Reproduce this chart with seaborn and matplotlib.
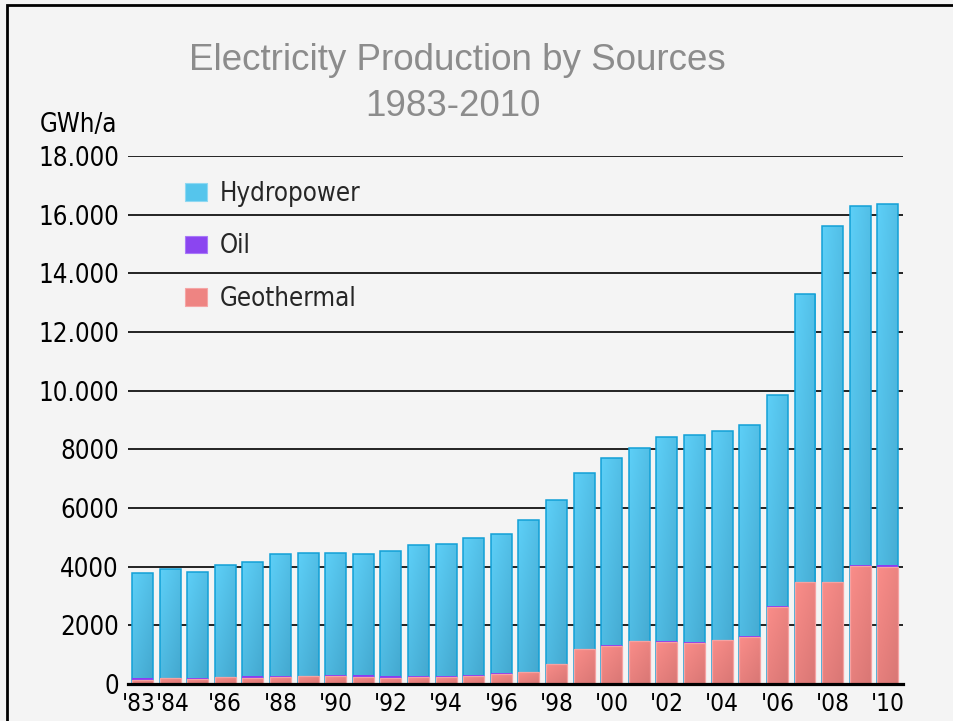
import numpy as np
import pandas as pd
import seaborn as sns
import matplotlib
matplotlib.use("Agg")
import matplotlib.pyplot as plt
from matplotlib.patches import Patch, Rectangle
from matplotlib.colors import LinearSegmentedColormap
from matplotlib.transforms import ScaledTranslation

# Annual electricity production (GWh/a) by source
years = list(range(1983, 2011))
hydropower = [3588, 3725, 3633, 3812, 3905, 4145, 4197, 4136, 4121, 4290,
              4450, 4495, 4658, 4728, 5177, 5578, 6007, 6357, 6571, 6945,
              7065, 7142, 7180, 7205, 9823, 12137, 12243, 12300]
oil = [45, 0, 45, 0, 45, 55, 0, 55, 55, 45,
       55, 55, 45, 55, 0, 0, 0, 45, 0, 45,
       50, 0, 50, 50, 0, 0, 45, 50]
geothermal = [147, 190, 157, 238, 215, 225, 283, 259, 249, 215,
              225, 225, 272, 327, 408, 692, 1178, 1293, 1474, 1420,
              1385, 1498, 1590, 2610, 3472, 3483, 4017, 4005]

tick_years = [1983, 1984, 1986, 1988, 1990, 1992, 1994, 1996, 1998,
              2000, 2002, 2004, 2006, 2008, 2010]
tick_labels = ["'83", "'84", "'86", "'88", "'90", "'92", "'94", "'96", "'98",
               "'00", "'02", "'04", "'06", "'08", "'10"]
y_ticks = [0, 2000, 4000, 6000, 8000, 10000, 12000, 14000, 16000, 18000]
y_tick_labels = ["0", "2000", "4000", "6000", "8000", "10.000", "12.000",
                 "14.000", "16.000", "18.000"]

df = pd.DataFrame({"year": [str(y) for y in years],
                   "Hydropower": hydropower, "Oil": oil, "Geothermal": geothermal})
df["geo_oil"] = df["Geothermal"] + df["Oil"]
df["total"] = df["geo_oil"] + df["Hydropower"]

BG = "#f4f4f4"
sns.set_theme(style="white")
plt.rcParams["font.family"] = ["DejaVu Sans"]
plt.rcParams["font.stretch"] = "condensed"

fig = plt.figure(figsize=(9.54, 7.21), dpi=100, facecolor=BG)
ax = fig.add_axes([128 / 954, 1 - 684 / 721, (903 - 128) / 954, (684 - 156) / 721])
ax.set_facecolor(BG)

# Stacked bars drawn as overlapping cumulative totals
sns.barplot(data=df, x="year", y="total", color="#55c5ec", saturation=1,
            width=0.76, errorbar=None, edgecolor="#12a0d6", linewidth=1.1,
            zorder=2, ax=ax)
sns.barplot(data=df, x="year", y="geo_oil", color="#8a3cf2", saturation=1,
            width=0.76, errorbar=None, linewidth=0, zorder=3, ax=ax)
sns.barplot(data=df, x="year", y="Geothermal", color="#f08684", saturation=1,
            width=0.76, errorbar=None, edgecolor="#f6a2a2", linewidth=0.9,
            zorder=4, ax=ax)


def shade(container, light, dark, z):
    cmap = LinearSegmentedColormap.from_list("shade", [light, dark])
    u = np.linspace(0, 1, 16)[None, :]
    v = np.linspace(0, 1, 128)[:, None]
    grad = 0.4 * u + 0.6 * v
    for bar in container.patches:
        x0, y0 = bar.get_x(), bar.get_y()
        w, h = bar.get_width(), bar.get_height()
        if h <= 0:
            continue
        im = ax.imshow(grad, cmap=cmap, vmin=0, vmax=1, origin="upper",
                       extent=[x0, x0 + w, y0, y0 + h], aspect="auto",
                       interpolation="bilinear", zorder=z - 0.05)
        im.set_clip_path(bar)
        bar.set_facecolor("none")


shade(ax.containers[0], "#5dcff7", "#43a7ce", 2)
shade(ax.containers[2], "#fa8d89", "#d97775", 4)

ax.set_xlim(-0.525, len(years) - 1 + 0.55)
ax.set_ylim(0, 18000)
ax.set_xlabel("")
ax.set_ylabel("")

ax.set_yticks(y_ticks)
ax.set_yticklabels(y_tick_labels)
ax.set_xticks([years.index(y) for y in tick_years])
ax.set_xticklabels(tick_labels)
ax.tick_params(axis="both", length=0, labelcolor="black")
ax.tick_params(axis="y", pad=6.5, labelsize=18.5)
ax.tick_params(axis="x", pad=5.5, labelsize=17.5)

# Nudge the two crowded first labels apart
xlabels = ax.get_xticklabels()
for lab, dx in ((xlabels[0], -4), (xlabels[1], 3)):
    lab.set_transform(lab.get_transform() +
                      ScaledTranslation(dx / 100, 0, fig.dpi_scale_trans))

ax.set_axisbelow(True)
ax.yaxis.grid(True, color="black", linewidth=1.2)
ax.xaxis.grid(False)
for side in ["left", "right", "top"]:
    ax.spines[side].set_visible(False)
ax.spines["bottom"].set_color("black")
ax.spines["bottom"].set_linewidth(2.3)
ax.spines["bottom"].set_zorder(6)

handles = [
    Patch(facecolor="#55c5ec", edgecolor="#8fd8f2", linewidth=0.8, label="Hydropower"),
    Patch(facecolor="#8b45f0", edgecolor="#a878f8", linewidth=0.8, label="Oil"),
    Patch(facecolor="#ee8482", edgecolor="#f5a5a5", linewidth=0.8, label="Geothermal"),
]
fig.legend(handles=handles, loc="upper left",
           bbox_to_anchor=(185 / 954, 1 - 181 / 721), frameon=False,
           fontsize=18.5, handlelength=0.86, handleheight=0.66,
           handletextpad=0.5, labelspacing=1.03, borderpad=0, borderaxespad=0)

fig.text(457 / 954, 1 - 70 / 721, "Electricity Production by Sources",
         ha="center", va="baseline", fontsize=26.5, color="#8c8c8c",
         family="Liberation Sans", fontstretch="normal")
fig.text(453 / 954, 1 - 116 / 721, "1983-2010",
         ha="center", va="baseline", fontsize=26.5, color="#8c8c8c",
         family="Liberation Sans", fontstretch="normal")
fig.text(40 / 954, 1 - 132 / 721, "GWh/a", ha="left", va="baseline",
         fontsize=18.5, color="black")

# Outer frame around the figure
fig.patches.append(Rectangle((7.3 / 954, -0.1), 1.2, 1.1 - 5.3 / 721,
                             transform=fig.transFigure, fill=False,
                             edgecolor="black", linewidth=2.0, zorder=10))

fig.savefig("out.png", dpi=100, facecolor=BG)
